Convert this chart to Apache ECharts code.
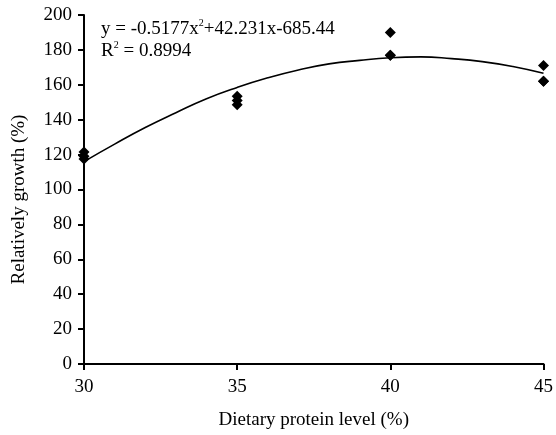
<!DOCTYPE html>
<html>
<head>
<meta charset="utf-8">
<script src="https://cdn.jsdelivr.net/npm/echarts@6/dist/echarts.min.js"></script>
<style>html,body{margin:0;padding:0;background:#fff}#c{width:556px;height:435px}</style>
</head>
<body>
<div id="c"></div>
<script>
// Observed data points (x = dietary protein level %, y = relative growth %)
var pointX = [30, 30, 30, 35, 35, 35, 40, 40, 40, 45, 45, 45];
var pointY = [121.5, 119, 117.5, 153.5, 151, 148.5, 190, 177, 177, 171, 162, 162];
// Fitted curve
var curveX = [30, 31, 32, 33, 34, 35, 36, 37, 38, 39, 40, 41, 42, 43, 44, 45];
var curveY = [116, 126, 135.5, 144, 152, 158.5, 164, 168.5, 172, 174, 175.5, 176, 175, 173.3, 170.5, 166.6];
var xTicks = [30, 35, 40, 45];
var yTicks = [0, 20, 40, 60, 80, 100, 120, 140, 160, 180, 200];
var equationLine1 = ['y = -0.5177x', '2', '+42.231x-685.44'];
var equationLine2 = ['R', '2', ' = 0.8994'];
var xTitle = 'Dietary protein level (%)';
var yTitle = 'Relatively growth (%)';

var FONT = 'Liberation Serif';
var chart = echarts.init(document.getElementById('c'), null, {renderer: 'canvas'});
var scatterData = pointX.map(function (x, i) { return [x, pointY[i]]; });
var lineData = curveX.map(function (x, i) { return [x, curveY[i]]; });

chart.setOption({
  animation: false,
  backgroundColor: '#fff',
  title: {
    left: 96, top: 13,
    text: equationLine1[0] + '{sup|' + equationLine1[1] + '}' + equationLine1[2] + '\n' +
          equationLine2[0] + '{sup|' + equationLine2[1] + '}' + equationLine2[2],
    textStyle: {
      fontFamily: FONT, fontSize: 19, fontWeight: 'normal', color: '#000', lineHeight: 22,
      rich: {
        sup: {fontFamily: FONT, fontSize: 10, color: '#000', verticalAlign: 'top', lineHeight: 22, padding: [0, 0, 9, 0]}
      }
    }
  },
  grid: {left: 84, right: 9, top: 15, bottom: 65, containLabel: false},
  xAxis: {
    type: 'value', min: 30, max: 45, interval: 5,
    name: xTitle, nameLocation: 'middle', nameGap: 47,
    nameTextStyle: {fontFamily: FONT, fontSize: 19, color: '#000'},
    axisLine: {onZero: false, lineStyle: {color: '#000', width: 2}},
    axisTick: {show: true, length: 6, inside: false, lineStyle: {color: '#000', width: 2}},
    axisLabel: {fontFamily: FONT, fontSize: 19, color: '#000', margin: 14,
      formatter: function (v) { return xTicks.indexOf(v) >= 0 ? String(v) : ''; }},
    splitLine: {show: false}
  },
  yAxis: {
    type: 'value', min: 0, max: 200, interval: 20,
    name: yTitle, nameLocation: 'middle', nameGap: 55, nameRotate: 90,
    nameTextStyle: {fontFamily: FONT, fontSize: 19, color: '#000', padding: [0, 20, 0, 0]},
    axisLine: {show: true, lineStyle: {color: '#000', width: 2}},
    axisTick: {show: true, length: 6, inside: false, lineStyle: {color: '#000', width: 2}},
    axisLabel: {fontFamily: FONT, fontSize: 19, color: '#000', margin: 12,
      formatter: function (v) { return yTicks.indexOf(v) >= 0 ? String(v) : ''; }},
    splitLine: {show: false}
  },
  series: [
    {
      type: 'line', data: lineData, smooth: true, showSymbol: false, symbol: 'none',
      lineStyle: {color: '#000', width: 1.6}, z: 2
    },
    {
      type: 'scatter', data: scatterData, symbol: 'diamond', symbolSize: 11,
      itemStyle: {color: '#000', opacity: 1}, z: 3
    }
  ]
});
</script>
</body>
</html>
